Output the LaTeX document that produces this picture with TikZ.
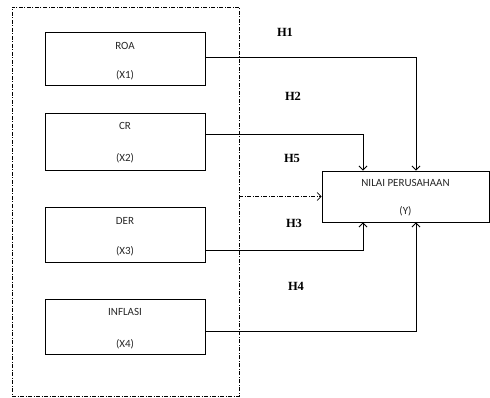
\documentclass[tikz,border=0pt]{standalone}
\usepackage{fontspec}
\setmainfont{Liberation Serif}
\newfontfamily\boxfont{Carlito}
\usetikzlibrary{arrows.meta,calc}
\begin{document}
\begin{tikzpicture}[x=1pt,y=-1pt,
  varbox/.style={draw, line width=0.9pt, minimum width=160pt, minimum height=53pt, inner sep=0pt},
  boxtext/.style={font=\boxfont\fontsize{11}{13}\selectfont, inner sep=0pt, text=black!85},
  hlabel/.style={font=\fontsize{12.5}{14}\selectfont\bfseries, inner sep=0pt},
  conn/.style={line width=0.9pt, -{Straight Barb[length=4pt,width=8pt]}},
  dd/.style={dash pattern=on 4pt off 1.5pt on 1pt off 1.5pt},
  frame/.style={draw, line width=0.7pt, dd, minimum width=227pt, minimum height=389pt, inner sep=0pt}]
\useasboundingbox (0,0) rectangle (490,398);
\node[frame] (frm) at (125.5,201.5) {};
\node[varbox] (roa) at (125,58.5) {};
\node[varbox, minimum height=57pt] (cr) at (125,141.5) {};
\node[varbox, minimum height=55pt] (der) at (125,234.5) {};
\node[varbox, minimum height=55pt] (inf) at (125,326.5) {};
\node[varbox, minimum width=167pt, minimum height=51pt] (nilai) at (405.5,196.5) {};
\node[boxtext] (roat) at ([yshift=-14pt]roa.north) {ROA};
\node[boxtext] (roax) at ([yshift=10pt]roa.south) {(X1)};
\node[boxtext] (crt) at ([yshift=-13pt]cr.north) {CR};
\node[boxtext] (crx) at ([yshift=12pt]cr.south) {(X2)};
\node[boxtext] (dert) at ([yshift=-14pt]der.north) {DER};
\node[boxtext] (derx) at ([yshift=11pt]der.south) {(X3)};
\node[boxtext] (inft) at ([yshift=-13pt]inf.north) {INFLASI};
\node[boxtext] (infx) at ([yshift=10pt]inf.south) {(X4)};
\node[boxtext] (nt) at ([yshift=-12pt]nilai.north) {NILAI PERUSAHAAN};
\node[boxtext] (nx) at ([yshift=11pt]nilai.south) {(Y)};
\node[hlabel] (h1) at (285,32) {H1};
\node[hlabel] (h2) at (293,96) {H2};
\node[hlabel] (h5) at (292,158) {H5};
\node[hlabel] (h3) at (294,223) {H3};
\node[hlabel] (h4) at (296,286) {H4};
\draw[conn] ([yshift=1pt]roa.east) -| ($(nilai.north)+(10.5,0)$);
\draw[conn] ([yshift=7pt]cr.east) -| ($(nilai.north)+(-42.5,0)$);
\draw[conn] ([yshift=-16pt]der.east) -| ($(nilai.south)+(-42.5,0)$);
\draw[conn] ([yshift=-4.5pt]inf.east) -| ($(nilai.south)+(10.5,0)$);
\draw[conn, line width=0.7pt, dd] (frm.east |- nilai.west) -- (nilai.west);
\end{tikzpicture}
\end{document}
